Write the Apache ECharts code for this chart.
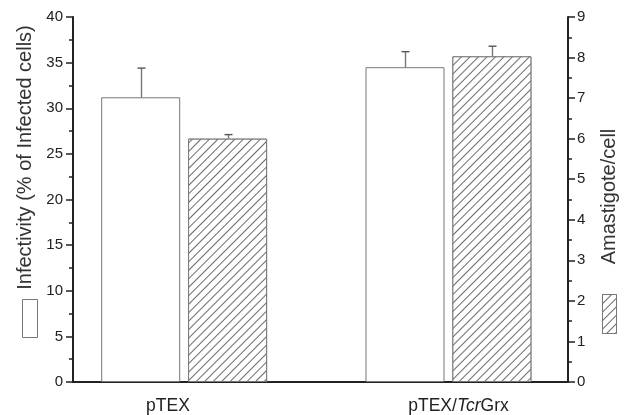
<!DOCTYPE html>
<html>
<head>
<meta charset="utf-8">
<script src="https://cdn.jsdelivr.net/npm/echarts@6/dist/echarts.min.js"></script>
<style>
  html, body { margin: 0; padding: 0; background: #fff; }
  #chart { width: 628px; height: 415px; }
</style>
</head>
<body>
<div id="chart"></div>
<script>
// Groups on the x axis
var categories = ['pTEX', 'pTEX/TcrGrx'];
// Infectivity (% of infected cells), left axis
var infectivity = [31.2, 34.5];
var infectivityErr = [3.2, 1.7];
// Amastigotes per cell, right axis
var amastigotes = [6.0, 8.03];
var amastigotesErr = [0.1, 0.25];
// Axis tick settings
var leftTicks = { min: 0, max: 40, interval: 5 };
var rightTicks = { min: 0, max: 9, interval: 1 };

var FONT = '"Liberation Sans", Arial, sans-serif';
var AXIS_COLOR = '#222';
var BAR_EDGE = '#777';
var BAR_W = 79;
var BAR_GAP = 0.1;

var hatch = {
  symbol: 'rect',
  symbolSize: 1,
  color: '#6a6a6a',
  backgroundColor: '#fff',
  dashArrayX: [1, 0],
  dashArrayY: [1, 5],
  rotation: -Math.PI / 4
};

// Upper error whisker with a cap, shifted to sit over its own bar
function errorRenderer(side) {
  return function (params, api) {
    var i = api.value(0);
    var top = api.coord([i, api.value(1) + api.value(2)]);
    var base = api.coord([i, api.value(1)]);
    var off = side * (BAR_W * (1 + BAR_GAP)) / 2;
    var x = Math.round(base[0] + off) + 0.5;
    var cap = 4;
    return {
      type: 'group',
      children: [
        { type: 'line', shape: { x1: x, y1: base[1], x2: x, y2: top[1] },
          style: { stroke: '#777', lineWidth: 1.4 } },
        { type: 'line', shape: { x1: x - cap, y1: top[1], x2: x + cap, y2: top[1] },
          style: { stroke: '#555', lineWidth: 1.4 } }
      ]
    };
  };
}

var labelFormatter = function (v) {
  var k = v.indexOf('Tcr');
  if (k < 0) return '{n|' + v + '}';
  return '{n|' + v.slice(0, k) + '}{i|Tcr}{n|' + v.slice(k + 3) + '}';
};

var chart = echarts.init(document.getElementById('chart'), null, { renderer: 'canvas' });

var axisName = { fontFamily: FONT, fontSize: 20, color: '#333' };

chart.setOption({
  animation: false,
  backgroundColor: '#fff',
  grid: [
    // frame with the visible axes
    { left: 73, right: 60, top: 17, bottom: 33 },
    // bars
    { left: 52, right: 47.4, top: 17, bottom: 33 },
    // group labels
    { left: 22.75, right: 24.25, top: 17, bottom: 33 }
  ],
  legend: [
    {
      data: ['Infectivity'], left: 22, top: 299, orient: 'vertical',
      icon: 'rect', itemWidth: 15, itemHeight: 38, padding: 0,
      formatter: function () { return ''; }, selectedMode: false,
      itemStyle: { borderColor: BAR_EDGE, borderWidth: 1 }
    },
    {
      data: ['Amastigote/cell'], left: 602, top: 294, orient: 'vertical',
      icon: 'rect', itemWidth: 14, itemHeight: 39, padding: 0,
      formatter: function () { return ''; }, selectedMode: false,
      itemStyle: { borderColor: BAR_EDGE, borderWidth: 1 }
    }
  ],
  xAxis: [
    { type: 'category', gridIndex: 0, data: categories,
      axisLine: { lineStyle: { color: AXIS_COLOR, width: 2 } },
      axisTick: { show: false }, axisLabel: { show: false } },
    { type: 'category', gridIndex: 1, data: categories, show: false },
    { type: 'category', gridIndex: 2, data: categories,
      axisLine: { show: false }, axisTick: { show: false },
      axisLabel: {
        margin: 15, formatter: labelFormatter,
        rich: {
          n: { fontFamily: FONT, fontSize: 17.5, color: '#222' },
          i: { fontFamily: FONT, fontSize: 17.5, color: '#222', fontStyle: 'italic' }
        }
      } }
  ],
  yAxis: [
    { type: 'value', gridIndex: 0, position: 'left',
      min: leftTicks.min, max: leftTicks.max, interval: leftTicks.interval,
      name: 'Infectivity (% of Infected cells)', nameLocation: 'middle', nameGap: 36,
      nameTextStyle: Object.assign({ padding: [0, 0, 0, 84] }, axisName),
      axisLine: { show: true, lineStyle: { color: AXIS_COLOR, width: 2 } },
      axisTick: { show: true, inside: false, length: 7, lineStyle: { color: AXIS_COLOR, width: 1.5 } },
      minorTick: { show: true, splitNumber: 2, length: 4, lineStyle: { color: AXIS_COLOR, width: 1.5 } },
      splitLine: { show: false },
      axisLabel: { margin: 10, fontFamily: FONT, fontSize: 15, color: '#222' } },
    { type: 'value', gridIndex: 0, position: 'right',
      min: rightTicks.min, max: rightTicks.max, interval: rightTicks.interval,
      name: 'Amastigote/cell', nameLocation: 'middle', nameGap: 31,
      nameTextStyle: Object.assign({ padding: [0, 0, 0, 6] }, axisName),
      axisLine: { show: true, lineStyle: { color: AXIS_COLOR, width: 2 } },
      axisTick: { show: true, inside: false, length: 7, lineStyle: { color: AXIS_COLOR, width: 1.5 } },
      minorTick: { show: true, splitNumber: 2, length: 4, lineStyle: { color: AXIS_COLOR, width: 1.5 } },
      splitLine: { show: false },
      axisLabel: { margin: 9, fontFamily: FONT, fontSize: 15, color: '#222' } },
    { type: 'value', gridIndex: 1, min: leftTicks.min, max: leftTicks.max, show: false },
    { type: 'value', gridIndex: 1, min: rightTicks.min, max: rightTicks.max, show: false },
    { type: 'value', gridIndex: 2, show: false }
  ],
  series: [
    {
      name: 'Infectivity', type: 'bar', xAxisIndex: 1, yAxisIndex: 2,
      data: infectivity, barWidth: BAR_W, barGap: (BAR_GAP * 100) + '%',
      itemStyle: { color: '#fff', borderColor: BAR_EDGE, borderWidth: 1 }
    },
    {
      name: 'Amastigote/cell', type: 'bar', xAxisIndex: 1, yAxisIndex: 3,
      data: amastigotes, barWidth: BAR_W,
      itemStyle: { color: '#fff', borderColor: BAR_EDGE, borderWidth: 1, decal: hatch }
    },
    {
      type: 'custom', xAxisIndex: 1, yAxisIndex: 2, z: 3,
      renderItem: errorRenderer(-1),
      data: infectivity.map(function (v, i) { return [i, v, infectivityErr[i]]; })
    },
    {
      type: 'custom', xAxisIndex: 1, yAxisIndex: 3, z: 3,
      renderItem: errorRenderer(1),
      data: amastigotes.map(function (v, i) { return [i, v, amastigotesErr[i]]; })
    }
  ]
});
</script>
</body>
</html>
